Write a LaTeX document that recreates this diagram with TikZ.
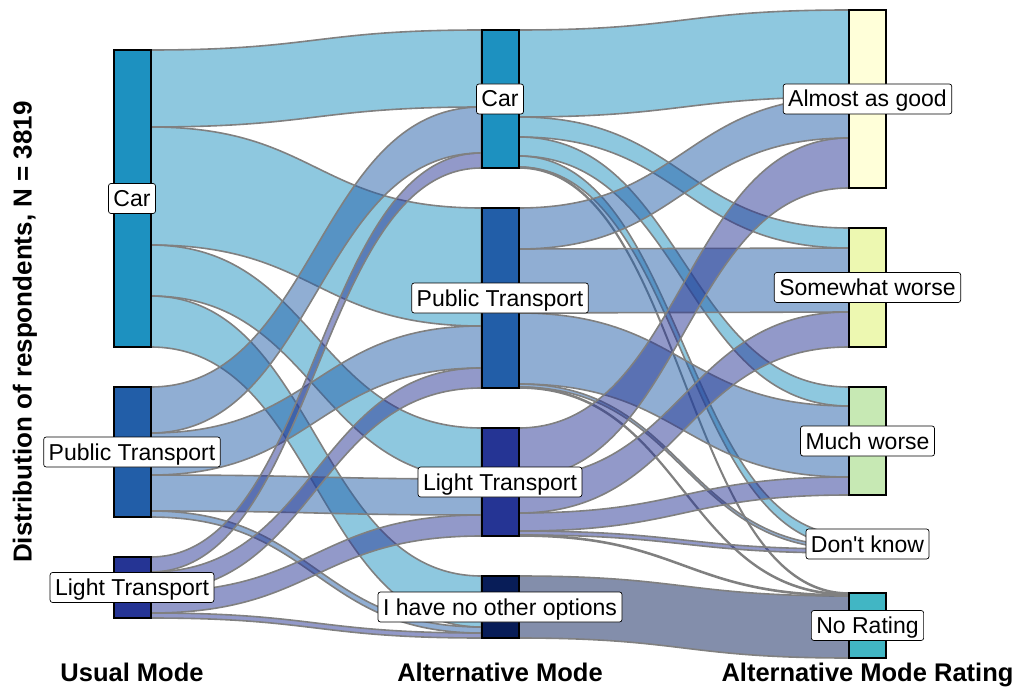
\documentclass[tikz,border=0pt]{standalone}
\usepackage{fontspec}
\setmainfont{Liberation Sans}
\usetikzlibrary{positioning}
\usetikzlibrary{calc}
\usepackage{xcolor}
\definecolor{carblue}{HTML}{1D91C0}
\definecolor{ptblue}{HTML}{225EA8}
\definecolor{ltblue}{HTML}{253494}
\definecolor{noneblue}{HTML}{081D58}
\definecolor{goodyellow}{HTML}{FFFFD9}
\definecolor{somegreen}{HTML}{EDF8B1}
\definecolor{muchgreen}{HTML}{C7E9B4}
\definecolor{dkteal}{HTML}{7FCDBB}
\definecolor{nrteal}{HTML}{41B6C4}
\pgfdeclarelayer{ribbons}
\pgfsetlayers{ribbons,main}
\tikzset{bar/.style={
          draw=black, line width=2pt,
          minimum width=37pt, inner sep=0pt, outer sep=0pt % outer sep 0 so north/south sit on the box edge
          },
        ribbon/.style={draw=gray, line width=1.6pt, fill opacity=0.5},
        tag/.style={
          draw=black, fill=white, line width=0.7pt, rounded corners=2.5pt,
          inner xsep=5pt, inner ysep=4pt, text height=19pt, text depth=3pt,
          font=\fontsize{23}{27}\selectfont
          },
        axistitle/.style={font=\fontsize{25.5}{30}\selectfont\bfseries, anchor=base},
}
% ribbon: source bar, offset from its top, target bar, offset from its top, width, colour
\newcommand{\flow}[6]{%
  \coordinate (s1) at ($(#1.north east)+(0,#2)$);
  \coordinate (s2) at ($(#1.north east)+(0,#2+#5)$);
  \coordinate (t1) at ($(#3.north west)+(0,#4)$);
  \coordinate (t2) at ($(#3.north west)+(0,#4+#5)$);
  \coordinate (mid) at ($(#1.east)!.5!(#3.west)$);
  \filldraw[ribbon, fill=#6] (s1) .. controls (mid |- s1) and (mid |- t1) .. (t1)
    -- (t2) .. controls (mid |- t2) and (mid |- s2) .. (s2) -- cycle;
}

\begin{document}
\begin{tikzpicture}[x=1pt, y=-1pt]
      \useasboundingbox (0,0) rectangle (1020,687);

      % USUAL MODE
      \node[bar, fill=carblue, minimum height=297pt, anchor=north] (u-car) at (132,50) {};
      \node[bar, fill=ptblue, minimum height=130pt, below=40pt of u-car] (u-pt) {};
      \node[bar, fill=ltblue, minimum height=61pt, below=40pt of u-pt] (u-lt) {};

      % ALTERNATIVE MODE
      \node[bar, fill=carblue, minimum height=138pt, anchor=north] (a-car) at (500,30) {};
      \node[bar, fill=ptblue, minimum height=180pt, below=40pt of a-car] (a-pt) {};
      \node[bar, fill=ltblue, minimum height=108pt, below=40pt of a-pt] (a-lt) {};
      \node[bar, fill=noneblue, minimum height=62pt, below=40pt of a-lt] (a-none) {};

      % RATING
      \node[bar, fill=goodyellow, minimum height=178pt, anchor=north] (r-good) at (867.5,10) {};
      \node[bar, fill=somegreen, minimum height=119pt, below=40pt of r-good] (r-some) {};
      \node[bar, fill=muchgreen, minimum height=108pt, below=40pt of r-some] (r-much) {};
      \node[bar, fill=dkteal, minimum height=18pt, below=40pt of r-much] (r-dk) {};
      \node[bar, fill=nrteal, minimum height=65pt, below=40pt of r-dk] (r-none) {};

      % FLOWS, kept under the bars
      \begin{pgfonlayer}{ribbons}
        \flow{u-car}{0}{a-car}{0}{77}{carblue}
        \flow{u-car}{77}{a-pt}{0}{118}{carblue}
        \flow{u-car}{195}{a-lt}{0}{51}{carblue}
        \flow{u-car}{246}{a-none}{0}{51}{carblue}
        \flow{u-pt}{0}{a-car}{77}{46}{ptblue}
        \flow{u-pt}{46}{a-pt}{118}{42}{ptblue}
        \flow{u-pt}{88}{a-lt}{51}{36}{ptblue}
        \flow{u-pt}{124}{a-none}{51}{6}{ptblue}
        \flow{u-lt}{0}{a-car}{123}{15}{ltblue}
        \flow{u-lt}{15}{a-pt}{160}{20}{ltblue}
        \flow{u-lt}{35}{a-lt}{87}{21}{ltblue}
        \flow{u-lt}{56}{a-none}{57}{5}{ltblue}

        \flow{a-car}{0}{r-good}{0}{87}{carblue}
        \flow{a-car}{87}{r-some}{0}{20}{carblue}
        \flow{a-car}{107}{r-much}{0}{19}{carblue}
        \flow{a-car}{126}{r-dk}{0}{11}{carblue}
        \flow{a-car}{137}{r-none}{0}{1}{carblue}
        \flow{a-pt}{0}{r-good}{87}{41}{ptblue}
        \flow{a-pt}{41}{r-some}{20}{64}{ptblue}
        \flow{a-pt}{105}{r-much}{19}{71}{ptblue}
        \flow{a-pt}{176}{r-dk}{11}{3}{ptblue}
        \flow{a-pt}{179}{r-none}{1}{1}{ptblue}
        \flow{a-lt}{0}{r-good}{128}{50}{ltblue}
        \flow{a-lt}{50}{r-some}{84}{35}{ltblue}
        \flow{a-lt}{85}{r-much}{90}{18}{ltblue}
        \flow{a-lt}{103}{r-dk}{14}{4}{ltblue}
        \flow{a-lt}{107}{r-none}{2}{1}{ltblue}
        \flow{a-none}{0}{r-none}{3}{62}{noneblue}
      \end{pgfonlayer}

      % LABELS
      \node[tag] (t-u-car) at (u-car) {Car};
      \node[tag] (t-u-pt) at (u-pt) {Public Transport};
      \node[tag] (t-u-lt) at (u-lt) {Light Transport};
      \node[tag] (t-a-car) at (a-car) {Car};
      \node[tag] (t-a-pt) at (a-pt) {Public Transport};
      \node[tag] (t-a-lt) at (a-lt) {Light Transport};
      \node[tag] (t-a-none) at (a-none) {I have no other options};
      \node[tag] (t-r-good) at (r-good) {Almost as good};
      \node[tag] (t-r-some) at (r-some) {Somewhat worse};
      \node[tag] (t-r-much) at (r-much) {Much worse};
      \node[tag] (t-r-dk) at (r-dk) {Don\textquotesingle t know};
      \node[tag] (t-r-none) at (r-none) {No Rating};

      % AXIS TITLES
      \node[axistitle] (x1) at (u-car |- 0,681) {Usual Mode};
      \node[axistitle] (x2) at (a-car |- 0,681) {Alternative Mode};
      \node[axistitle] (x3) at (r-good |- 0,681) {Alternative Mode Rating};
      \node[axistitle, font=\fontsize{26}{30}\selectfont\bfseries, rotate=90, anchor=center] (ytitle) at (25,332) {Distribution of respondents, N = 3819};
\end{tikzpicture}
\end{document}
